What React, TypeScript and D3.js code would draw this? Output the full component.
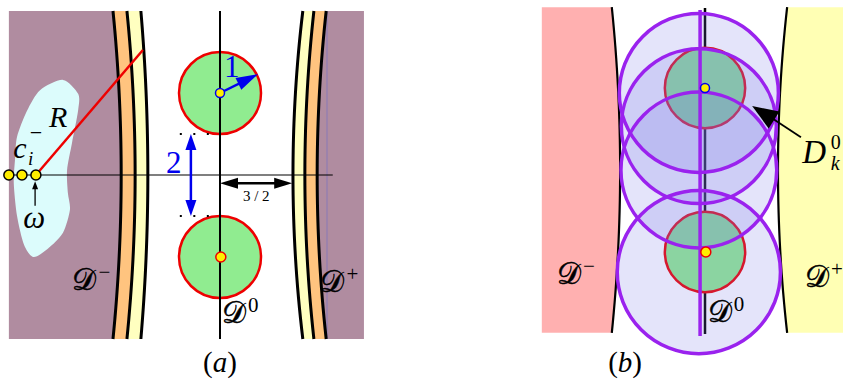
import React from 'react'
import * as d3 from 'd3'

// geometry in "disk radius" units, origin at the centre of each panel
const leftBandTop = [-2.61, -2.27, -1.93]
const leftBandMid = [-2.41, -2.07, -1.76]
const rightBandTop = [2.02, 2.29, 2.59]
const rightBandMid = [1.78, 2.07, 2.37]
const frameA = [-5.15, 3.51]
const diskCentersA = [2, -2]
const markerDotsA = [-5.15, -4.83, -4.49]
const blobA: [number, number][] = [
  [-3.83, 2.32], [-3.46, 1.98], [-3.46, 1.58], [-3.61, 0.78], [-3.73, 0.12],
  [-3.71, -0.44], [-3.66, -0.85], [-3.83, -1.41], [-4.2, -1.8], [-4.55, -2.0],
  [-4.78, -1.7], [-4.95, -1.0], [-5.03, -0.2], [-5.0, 0.37], [-4.95, 0.93],
  [-4.71, 1.56], [-4.39, 2.07],
]
const radiusEnd = [-1.88, 3.05]
const unitArrowEnd = [0.93, 2.46]

const pinkB = [-3.98, -2.27, -2.07]
const yellowB = [3.37, 2.0, 1.78]
const coverCentersB = [1.88, 1.07, 0, -2.49]
const coverRadiiB = [1.94, 1.89, 1.9, 1.99]
const diskCentersB = [2, -2]
const arrowB = [2.34, 0.8, 1.15, 1.56]

const W = 843
const H = 381

const xa = d3.scaleLinear().domain([0, 1]).range([220, 261])
const ya = d3.scaleLinear().domain([0, 1]).range([175, 134])
const xb = d3.scaleLinear().domain([0, 1]).range([705, 746])
const yb = d3.scaleLinear().domain([0, 1]).range([170, 129])

const vs = d3.range(-4, 4.001, 0.25)
const bend = (top: number, mid: number, v: number, h = 4) => top + (mid - top) * (1 - (v / h) * (v / h))

function curvePts(top: number, mid: number, xs: any, ys: any, h = 4): [number, number][] {
  return vs.map(v => [xs(bend(top, mid, v, h)), ys(v * h / 4)] as [number, number])
}

const line = d3.line<[number, number]>().curve(d3.curveNatural)

function region(a: [number, number][], b: [number, number][]) {
  const p = d3.path()
  a.forEach((pt, i) => (i ? p.lineTo(pt[0], pt[1]) : p.moveTo(pt[0], pt[1])))
  b.slice().reverse().forEach(pt => p.lineTo(pt[0], pt[1]))
  p.closePath()
  return p.toString()
}

function head(x1: number, y1: number, x2: number, y2: number, len: number, w: number) {
  const a = Math.atan2(y2 - y1, x2 - x1)
  const bx = x2 - len * Math.cos(a), by = y2 - len * Math.sin(a)
  const nx = -Math.sin(a) * w / 2, ny = Math.cos(a) * w / 2
  return `M${x2},${y2}L${bx + nx},${by + ny}L${bx - nx},${by - ny}Z`
}

const serif = { fontFamily: "'Liberation Serif', 'DejaVu Serif', 'Times New Roman', serif" }
const CAL = '\u{1D49F}'

function Dlabel({ x, y, sup }: { x: number; y: number; sup: string }) {
  return (
    <g style={serif}>
      <text x={x} y={y} fontSize={30} stroke="#000" strokeWidth={0.5}>{CAL}</text>
      <text x={x + 26} y={y - 11} fontSize={21}>{sup}</text>
    </g>
  )
}

function PanelA() {
  const vTop = 4, vBot = -4
  const lb = leftBandTop.map((t, i) => curvePts(t, leftBandMid[i], xa, ya))
  const rb = rightBandTop.map((t, i) => curvePts(t, rightBandMid[i], xa, ya))
  const edgeL = vs.map(v => [xa(frameA[0]), ya(v)] as [number, number])
  const edgeR = vs.map(v => [xa(frameA[1]), ya(v)] as [number, number])
  const blob = d3.line<[number, number]>().x(d => xa(d[0])).y(d => ya(d[1])).curve(d3.curveCardinalClosed.tension(0.2))(blobA)
  const r1 = xa(1) - xa(0)
  return (
    <g>
      <path d={region(edgeL, lb[0])} fill="#b08ca0" />
      <path d={region(lb[0], lb[1])} fill="#ffc47f" />
      <path d={region(lb[1], lb[2])} fill="#ffffc0" />
      <path d={region(rb[0], rb[1])} fill="#ffffc0" />
      <path d={region(rb[1], rb[2])} fill="#ffc47f" />
      <path d={region(rb[2], edgeR)} fill="#b08ca0" />
      <line x1={xa(2.61)} x2={xa(2.61)} y1={ya(vTop)} y2={ya(vBot)} stroke="#7a70c0" strokeWidth={0.7} />
      {lb.concat(rb).map((c, i) => <path key={i} d={line(c) || ''} fill="none" stroke="#000" strokeWidth={3} />)}
      <path d={blob || ''} fill="#dcfcfc" />
      <line x1={xa(frameA[0])} x2={xa(2.75)} y1={ya(0)} y2={ya(0)} stroke="#000" strokeWidth={1.2} />
      {diskCentersA.map(c => (
        <circle key={c} cx={xa(0)} cy={ya(c)} r={r1} fill="#90ec90" stroke="#ee0000" strokeWidth={2.5} />
      ))}
      <line x1={xa(0)} x2={xa(0)} y1={ya(vTop)} y2={ya(vBot)} stroke="#000" strokeWidth={2} />
      {[1, -1].map(v => (
        <line key={v} x1={xa(-0.98)} x2={xa(-0.25)} y1={ya(v)} y2={ya(v)} stroke="#000" strokeWidth={2} strokeDasharray="2,11.5" />
      ))}
      <line x1={xa(markerDotsA[2])} y1={ya(0)} x2={xa(radiusEnd[0])} y2={ya(radiusEnd[1])} stroke="#ee0000" strokeWidth={2.5} />
      {markerDotsA.map(u => (
        <circle key={u} cx={xa(u)} cy={ya(0)} r={5} fill="#ffee00" stroke="#000" strokeWidth={1.5} />
      ))}
      {/* unit radius arrow */}
      <line x1={xa(0)} y1={ya(2)} x2={xa(unitArrowEnd[0]) - 12} y2={ya(unitArrowEnd[1]) + 6} stroke="#0000ee" strokeWidth={2.5} />
      <path d={head(xa(0), ya(2), xa(unitArrowEnd[0]), ya(unitArrowEnd[1]), 22, 13)} fill="#0000ee" />
      <circle cx={xa(0)} cy={ya(2)} r={4.5} fill="#ffee00" stroke="#0000ee" strokeWidth={1.5} />
      <circle cx={xa(0.02)} cy={ya(-2)} r={5} fill="#ffee00" stroke="#ee0000" strokeWidth={1.5} />
      {/* gap arrow */}
      <line x1={xa(-0.71)} x2={xa(-0.71)} y1={ya(1) + 12} y2={ya(-1) - 12} stroke="#0000ee" strokeWidth={2.5} />
      <path d={head(xa(-0.71), ya(0), xa(-0.71), ya(1), 16, 11)} fill="#0000ee" />
      <path d={head(xa(-0.71), ya(0), xa(-0.71), ya(-1), 16, 11)} fill="#0000ee" />
      {/* 3/2 arrow */}
      <line x1={xa(0) + 12} x2={xa(1.76) - 12} y1={ya(-0.2)} y2={ya(-0.2)} stroke="#000" strokeWidth={2.5} />
      <path d={head(xa(1), ya(-0.2), xa(0), ya(-0.2), 18, 11)} fill="#000" />
      <path d={head(xa(1), ya(-0.2), xa(1.76), ya(-0.2), 18, 11)} fill="#000" />
      {/* omega arrow */}
      <line x1={xa(-4.51)} x2={xa(-4.51)} y1={ya(-0.75)} y2={ya(-0.3)} stroke="#000" strokeWidth={1.3} />
      <path d={head(xa(-4.51), ya(-0.75), xa(-4.51), ya(-0.15), 8, 6)} fill="#000" />
      <g style={serif}>
        <text x={xa(-4.17)} y={ya(1.17)} fontSize={30} fontStyle="italic">R</text>
        <text x={xa(-5.04)} y={ya(0.42)} fontSize={30} fontStyle="italic">c</text>
        <text x={xa(-4.68)} y={ya(0.24)} fontSize={19} fontStyle="italic">i</text>
        <text x={xa(-4.64)} y={ya(0.86)} fontSize={22}>−</text>
        <text x={xa(-4.8)} y={ya(-1.29)} fontSize={31} fontStyle="italic">ω</text>
        <text x={xa(0.1)} y={ya(2.4)} fontSize={31} fill="#0000ee">1</text>
        <text x={xa(-1.32)} y={ya(0.05)} fontSize={31} fill="#0000ee">2</text>
        <text x={xa(0.56)} y={ya(-0.63)} fontSize={15}>3 / 2</text>
        <text x={xa(0)} y={372} fontSize={29} textAnchor="middle">(<tspan fontStyle="italic">a</tspan>)</text>
      </g>
      <Dlabel x={xa(-3.6)} y={ya(-2.8)} sup="−" />
      <Dlabel x={xa(2.45)} y={ya(-2.85)} sup="+" />
      <Dlabel x={xa(0.05)} y={ya(-3.6)} sup="0" />
    </g>
  )
}

function PanelB() {
  const h = 3.97
  const pc = curvePts(pinkB[1], pinkB[2], xb, yb, h)
  const yc = curvePts(yellowB[1], yellowB[2], xb, yb, h)
  const pe = vs.map(v => [xb(pinkB[0]), yb(v * h / 4)] as [number, number])
  const ye = vs.map(v => [xb(yellowB[0]), yb(v * h / 4)] as [number, number])
  const r1 = xb(0.98) - xb(0)
  return (
    <g>
      <path d={region(pe, pc)} fill="#ffb0b0" />
      <path d={region(yc, ye)} fill="#ffffb4" />
      <path d={line(pc) || ''} fill="none" stroke="#000" strokeWidth={2.2} />
      <path d={line(yc) || ''} fill="none" stroke="#000" strokeWidth={2.2} />
      <line x1={xb(0)} x2={xb(0)} y1={yb(3.95)} y2={yb(-4.0)} stroke="#000" strokeWidth={2.5} />
      {diskCentersB.map(c => (
        <circle key={c} cx={xb(0)} cy={yb(c)} r={r1} fill="#90ec90" stroke="#ee0000" strokeWidth={2.5} />
      ))}
      {coverCentersB.map((c, i) => (
        <circle key={i} cx={xb(-0.15)} cy={yb(c)} r={xb(coverRadiiB[i]) - xb(0)} fill="rgba(120,120,232,0.2)" stroke="none" />
      ))}
      {coverCentersB.map((c, i) => (
        <circle key={i} cx={xb(-0.15)} cy={yb(c)} r={xb(coverRadiiB[i]) - xb(0)} fill="none" stroke="#9a22ee" strokeWidth={3.5} />
      ))}
      <line x1={xb(-0.12)} x2={xb(-0.12)} y1={yb(3.9)} y2={yb(-4.05)} stroke="#9a22ee" strokeWidth={3.5} />
      <circle cx={xb(0)} cy={yb(2)} r={4.5} fill="#ffee00" stroke="#0000ee" strokeWidth={1.5} />
      <circle cx={xb(0.02)} cy={yb(-2)} r={5} fill="#ffee00" stroke="#ee0000" strokeWidth={1.5} />
      <line x1={xb(arrowB[0])} y1={yb(arrowB[1])} x2={xb(arrowB[2]) + 15} y2={yb(arrowB[3]) + 9} stroke="#000" strokeWidth={1.8} />
      <path d={head(xb(arrowB[0]), yb(arrowB[1]), xb(arrowB[2]), yb(arrowB[3]), 26, 20)} fill="#000" />
      <g style={serif}>
        <text x={xb(2.37)} y={yb(0.17)} fontSize={33} fontStyle="italic">D</text>
        <text x={xb(3.07)} y={yb(0.52)} fontSize={20}>0</text>
        <text x={xb(3.07)} y={yb(0.0)} fontSize={20} fontStyle="italic">k</text>
        <text x={xb(-1.95)} y={372} fontSize={29} textAnchor="middle">(<tspan fontStyle="italic">b</tspan>)</text>
      </g>
      <Dlabel x={xb(-3.61)} y={yb(-2.78)} sup="−" />
      <Dlabel x={xb(2.44)} y={yb(-2.85)} sup="+" />
      <Dlabel x={xb(0.07)} y={yb(-3.7)} sup="0" />
    </g>
  )
}

export default function App() {
  return (
    <svg width={W} height={H} style={{ position: 'absolute', left: 0, top: 0, background: '#fff' }}>
      <PanelA />
      <PanelB />
    </svg>
  )
}
